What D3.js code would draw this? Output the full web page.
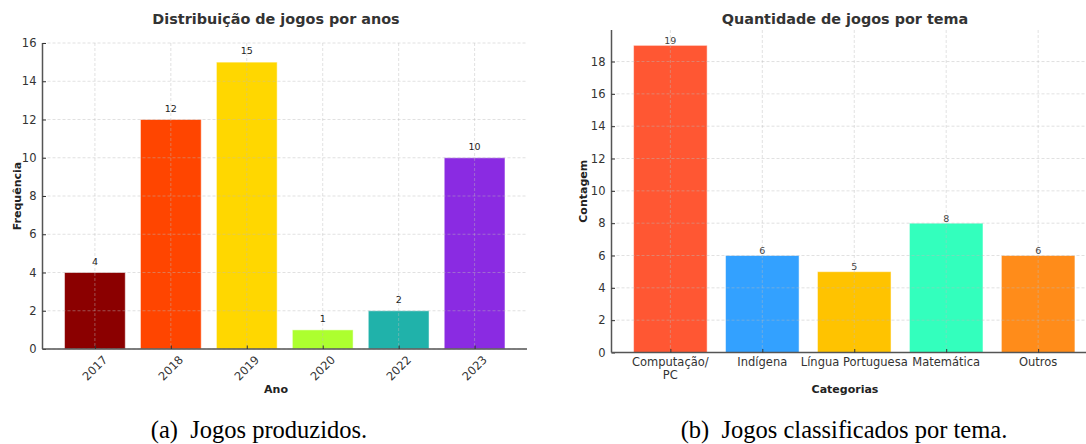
<!DOCTYPE html>
<html lang="pt">
<head>
  <meta charset="UTF-8">
  <title>Jogos</title>
  <script src="https://cdn.jsdelivr.net/npm/d3@7"></script>
  <style>
    body { margin: 0; background: #fff; }
    text { font-family: "DejaVu Sans", sans-serif; }
    .caption { font-family: "Liberation Serif", "Times New Roman", serif; }
  </style>
</head>
<body>
<script>
// chart (a)
const years = ["2017", "2018", "2019", "2020", "2022", "2023"];
const yearCounts = [4, 12, 15, 1, 2, 10];
const yearColors = ["#8B0000", "#FF4500", "#FFD700", "#ADFF2F", "#20B2AA", "#8A2BE2"];
const yearTicks = [0, 2, 4, 6, 8, 10, 12, 14, 16];

// chart (b)
const themes = ["Computação/\nPC", "Indígena", "Língua Portuguesa", "Matemática", "Outros"];
const themeCounts = [19, 6, 5, 8, 6];
const themeColors = ["#FF5733", "#33A1FF", "#FFC300", "#33FFBD", "#FF8C1A"];
const themeTicks = [0, 2, 4, 6, 8, 10, 12, 14, 16, 18];

const W = 1086, H = 444;
const svg = d3.select("body").append("svg").attr("width", W).attr("height", H);

function drawChart(o) {
  const g = svg.append("g");
  const n = o.cats.length;
  // matplotlib-like limits: bars from -0.4..n-0.6 with 5% margin
  const lo = -0.4, hi = n - 0.6, m = (hi - lo) * 0.05;
  const x = d3.scaleLinear().domain([lo - m, hi + m]).range([o.left, o.right]);
  const y = d3.scaleLinear().domain([0, o.ymax]).range([o.bottom, o.top]);

  // bars
  g.selectAll("rect.bar").data(o.values).enter().append("rect")
    .attr("x", (d, i) => x(i - 0.4))
    .attr("width", (d, i) => x(i + 0.4) - x(i - 0.4))
    .attr("y", d => y(d))
    .attr("height", d => y(0) - y(d))
    .attr("fill", (d, i) => o.colors[i])
    .attr("stroke", "rgba(255,255,255,0.5)")
    .attr("stroke-width", 1);

  // grid
  const grid = g.append("g").attr("stroke", "#bbb").attr("stroke-opacity", 0.55)
    .attr("stroke-width", 0.8).attr("stroke-dasharray", "3,2");
  grid.selectAll("line.h").data(o.ticks).enter().append("line")
    .attr("x1", o.left).attr("x2", o.right)
    .attr("y1", d => y(d)).attr("y2", d => y(d));
  grid.selectAll("line.v").data(o.cats).enter().append("line")
    .attr("x1", (d, i) => x(i)).attr("x2", (d, i) => x(i))
    .attr("y1", o.top).attr("y2", o.bottom);

  // axes
  const yAxis = d3.axisLeft(y).tickValues(o.ticks).tickSize(-3.5).tickPadding(6).tickFormat(d3.format("d"));
  const ya = g.append("g").attr("transform", `translate(${o.left},0)`).call(yAxis);
  const xAxis = d3.axisBottom(x).tickValues(d3.range(n)).tickSize(-3.5).tickFormat("");
  const xa = g.append("g").attr("transform", `translate(0,${o.bottom})`).call(xAxis);
  [ya, xa].forEach(a => {
    a.select(".domain").attr("stroke", "#555").attr("stroke-width", 1.5);
    a.selectAll(".tick line").attr("stroke", "#333").attr("stroke-width", 1);
    a.selectAll(".tick text").attr("fill", "#333").style("font-size", "11.5px")
      .style("font-family", "DejaVu Sans");
  });
  ya.select(".domain").attr("d", `M0,${o.bottom}V${o.top}`);
  xa.select(".domain").attr("d", `M${o.left},0H${o.right}`);

  // category labels
  if (o.rotate) {
    g.selectAll("text.cat").data(o.cats).enter().append("text")
      .attr("transform", (d, i) => `translate(${x(i)},${o.bottom + 19}) rotate(-45)`)
      .attr("text-anchor", "middle").attr("dominant-baseline", "central")
      .attr("fill", "#333").style("font-size", "11.5px").text(d => d);
  } else {
    const t = g.selectAll("text.cat").data(o.cats).enter().append("text")
      .attr("x", (d, i) => x(i)).attr("y", o.bottom + 13)
      .attr("text-anchor", "middle").attr("fill", "#333").style("font-size", "11.5px");
    t.each(function(d, i) {
      d.split("\n").forEach((s, k) => {
        d3.select(this).append("tspan").attr("x", x(i)).attr("dy", k ? 13 : 0).text(s);
      });
    });
  }

  // value labels
  g.selectAll("text.val").data(o.values).enter().append("text")
    .attr("x", (d, i) => x(i)).attr("y", d => y(d) - o.valOffset)
    .attr("text-anchor", "middle").attr("fill", o.valColor).style("font-size", "9.5px")
    .text(d => d);

  // titles
  g.append("text").attr("x", o.titleX).attr("y", 24).attr("text-anchor", "middle")
    .attr("fill", "#333").style("font-size", "14.4px").style("font-weight", "bold").text(o.title);
  g.append("text").attr("x", o.titleX).attr("y", 393).attr("text-anchor", "middle")
    .attr("fill", "#222").style("font-size", "11px").style("font-weight", "bold").text(o.xlabel);
  g.append("text").attr("transform", `translate(${o.ylabelX},${(o.top + o.bottom) / 2}) rotate(-90)`)
    .attr("text-anchor", "middle").attr("fill", "#222").style("font-size", "11px")
    .style("font-weight", "bold").text(o.ylabel);
  g.append("text").attr("class", "caption").attr("x", o.capX).attr("y", 438)
    .attr("text-anchor", "middle").attr("fill", "#000").style("font-size", "24.5px")
    .style("font-family", "Liberation Serif").attr("xml:space", "preserve").text(o.caption);
}

drawChart({
  cats: years, values: yearCounts, colors: yearColors, ticks: yearTicks, ymax: 16,
  left: 42.5, right: 527, top: 43, bottom: 349, rotate: true,
  valOffset: 8, valColor: "#222",
  title: "Distribuição de jogos por anos", titleX: 276, xlabel: "Ano", ylabel: "Frequência",
  ylabelX: 21, capX: 259, caption: "(a)  Jogos produzidos."
});

drawChart({
  cats: themes, values: themeCounts, colors: themeColors, ticks: themeTicks, ymax: 19.95,
  left: 611.5, right: 1097, top: 30, bottom: 352.5, rotate: false,
  valOffset: 1.5, valColor: "#444",
  title: "Quantidade de jogos por tema", titleX: 845, xlabel: "Categorias", ylabel: "Contagem",
  ylabelX: 587, capX: 844, caption: "(b)  Jogos classificados por tema."
});
</script>
</body>
</html>
